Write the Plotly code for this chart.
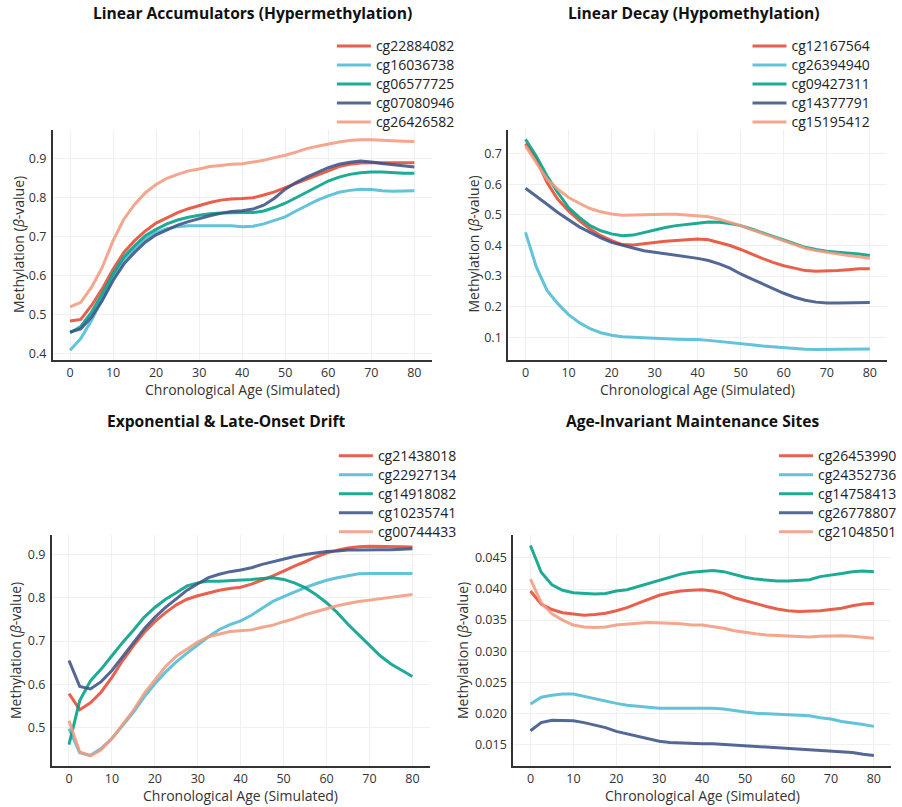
import plotly.graph_objects as go

AGES = [0, 2.5, 5, 7.5, 10, 12.5, 15, 17.5, 20, 22.5, 25, 27.5, 30, 32.5, 35, 37.5, 40,
        42.5, 45, 47.5, 50, 52.5, 55, 57.5, 60, 62.5, 65, 67.5, 70, 72.5, 75, 77.5, 80]

COLORS = ["#E64B35", "#4DBBD5", "#00A087", "#3C5488", "#F39B7F"]

PANEL_TITLES = ["Linear Accumulators (Hypermethylation)", "Linear Decay (Hypomethylation)",
                "Exponential & Late-Onset Drift", "Age-Invariant Maintenance Sites"]

# Panel 1: Linear Accumulators
P1_NAMES = ["cg22884082", "cg16036738", "cg06577725", "cg07080946", "cg26426582"]
cg22884082 = [0.484, 0.488, 0.524, 0.567, 0.617, 0.660, 0.690, 0.715, 0.735, 0.749, 0.762, 0.772, 0.781, 0.788, 0.794, 0.797, 0.798,
              0.800, 0.807, 0.815, 0.826, 0.837, 0.849, 0.860, 0.870, 0.880, 0.886, 0.889, 0.890, 0.890, 0.890, 0.890, 0.890]
cg16036738 = [0.409, 0.439, 0.486, 0.541, 0.596, 0.639, 0.669, 0.694, 0.711, 0.721, 0.726, 0.728, 0.728, 0.727, 0.728, 0.728, 0.726,
              0.727, 0.733, 0.741, 0.751, 0.766, 0.781, 0.794, 0.805, 0.814, 0.819, 0.822, 0.821, 0.818, 0.817, 0.817, 0.818]
cg06577725 = [0.454, 0.470, 0.507, 0.554, 0.605, 0.648, 0.677, 0.703, 0.719, 0.733, 0.743, 0.750, 0.755, 0.759, 0.761, 0.762, 0.762,
              0.762, 0.766, 0.775, 0.786, 0.800, 0.815, 0.830, 0.843, 0.853, 0.860, 0.864, 0.866, 0.866, 0.864, 0.863, 0.863]
cg07080946 = [0.456, 0.464, 0.494, 0.537, 0.588, 0.630, 0.660, 0.686, 0.705, 0.718, 0.730, 0.739, 0.747, 0.754, 0.760, 0.765, 0.767,
              0.771, 0.781, 0.799, 0.822, 0.839, 0.853, 0.866, 0.877, 0.886, 0.891, 0.894, 0.892, 0.888, 0.885, 0.882, 0.879]
cg26426582 = [0.520, 0.532, 0.571, 0.622, 0.690, 0.745, 0.783, 0.813, 0.834, 0.850, 0.860, 0.869, 0.874, 0.880, 0.883, 0.886, 0.887,
              0.891, 0.896, 0.903, 0.909, 0.917, 0.926, 0.932, 0.938, 0.943, 0.947, 0.949, 0.949, 0.947, 0.946, 0.945, 0.944]

# Panel 2: Linear Decay
P2_NAMES = ["cg12167564", "cg26394940", "cg09427311", "cg14377791", "cg15195412"]
cg12167564 = [0.733, 0.682, 0.606, 0.551, 0.513, 0.481, 0.454, 0.432, 0.416, 0.403, 0.402, 0.407, 0.410, 0.414, 0.417, 0.419, 0.421,
              0.419, 0.410, 0.400, 0.387, 0.372, 0.358, 0.345, 0.334, 0.326, 0.318, 0.316, 0.316, 0.318, 0.321, 0.324, 0.324]
cg26394940 = [0.443, 0.330, 0.253, 0.210, 0.174, 0.148, 0.128, 0.115, 0.107, 0.102, 0.100, 0.098, 0.096, 0.095, 0.094, 0.093, 0.093,
              0.090, 0.087, 0.084, 0.080, 0.076, 0.072, 0.069, 0.066, 0.063, 0.061, 0.060, 0.060, 0.060, 0.061, 0.061, 0.062]
cg09427311 = [0.747, 0.692, 0.627, 0.573, 0.524, 0.492, 0.465, 0.448, 0.438, 0.432, 0.434, 0.443, 0.451, 0.459, 0.465, 0.470, 0.473,
              0.477, 0.476, 0.472, 0.465, 0.454, 0.443, 0.430, 0.418, 0.405, 0.394, 0.387, 0.381, 0.378, 0.376, 0.372, 0.367]
cg14377791 = [0.587, 0.562, 0.535, 0.508, 0.484, 0.461, 0.443, 0.425, 0.410, 0.400, 0.392, 0.383, 0.378, 0.372, 0.369, 0.364, 0.358,
              0.351, 0.340, 0.326, 0.307, 0.291, 0.275, 0.259, 0.244, 0.231, 0.221, 0.215, 0.212, 0.212, 0.213, 0.213, 0.214]
cg15195412 = [0.725, 0.671, 0.616, 0.584, 0.557, 0.538, 0.521, 0.510, 0.503, 0.499, 0.500, 0.502, 0.502, 0.502, 0.502, 0.500, 0.498,
              0.494, 0.486, 0.476, 0.465, 0.452, 0.440, 0.428, 0.416, 0.403, 0.391, 0.384, 0.378, 0.372, 0.367, 0.363, 0.358]

# Panel 3: Exponential & Late-Onset Drift
P3_NAMES = ["cg21438018", "cg22927134", "cg14918082", "cg10235741", "cg00744433"]
cg21438018 = [0.578, 0.541, 0.557, 0.582, 0.616, 0.655, 0.689, 0.720, 0.745, 0.766, 0.784, 0.797, 0.805, 0.812, 0.818, 0.822, 0.825,
              0.832, 0.841, 0.851, 0.862, 0.874, 0.884, 0.895, 0.904, 0.911, 0.916, 0.919, 0.920, 0.920, 0.919, 0.919, 0.918]
cg22927134 = [0.497, 0.441, 0.435, 0.451, 0.474, 0.505, 0.535, 0.570, 0.601, 0.628, 0.652, 0.672, 0.692, 0.710, 0.727, 0.738, 0.747,
              0.760, 0.776, 0.792, 0.803, 0.814, 0.824, 0.833, 0.841, 0.847, 0.852, 0.856, 0.857, 0.857, 0.857, 0.857, 0.857]
cg14918082 = [0.460, 0.562, 0.608, 0.635, 0.666, 0.697, 0.725, 0.755, 0.778, 0.797, 0.812, 0.828, 0.835, 0.839, 0.839, 0.840, 0.842,
              0.843, 0.845, 0.847, 0.843, 0.835, 0.824, 0.808, 0.789, 0.766, 0.739, 0.714, 0.689, 0.666, 0.647, 0.632, 0.618]
cg10235741 = [0.655, 0.595, 0.589, 0.606, 0.632, 0.664, 0.695, 0.728, 0.755, 0.778, 0.798, 0.818, 0.833, 0.847, 0.855, 0.861, 0.865,
              0.870, 0.878, 0.884, 0.891, 0.896, 0.901, 0.905, 0.908, 0.909, 0.911, 0.911, 0.912, 0.912, 0.912, 0.913, 0.914]
cg00744433 = [0.515, 0.443, 0.434, 0.448, 0.474, 0.506, 0.539, 0.578, 0.610, 0.641, 0.665, 0.682, 0.698, 0.710, 0.716, 0.722, 0.724,
              0.726, 0.732, 0.737, 0.745, 0.752, 0.761, 0.768, 0.775, 0.782, 0.787, 0.792, 0.795, 0.798, 0.801, 0.804, 0.808]

# Panel 4: Age-Invariant Maintenance Sites
P4_NAMES = ["cg26453990", "cg24352736", "cg14758413", "cg26778807", "cg21048501"]
cg26453990 = [0.0397, 0.0376, 0.0367, 0.0362, 0.0360, 0.0358, 0.0359, 0.0361, 0.0365, 0.0370, 0.0377, 0.0384, 0.0390, 0.0394, 0.0397, 0.0398, 0.0399,
              0.0397, 0.0393, 0.0386, 0.0381, 0.0376, 0.0372, 0.0368, 0.0365, 0.0364, 0.0364, 0.0365, 0.0367, 0.0369, 0.0373, 0.0376, 0.0377]
cg24352736 = [0.0215, 0.0226, 0.0229, 0.0231, 0.0231, 0.0227, 0.0224, 0.0219, 0.0216, 0.0213, 0.0211, 0.0209, 0.0208, 0.0208, 0.0208, 0.0208, 0.0209,
              0.0208, 0.0207, 0.0204, 0.0202, 0.0200, 0.0199, 0.0198, 0.0197, 0.0197, 0.0196, 0.0193, 0.0191, 0.0187, 0.0185, 0.0182, 0.0179]
cg14758413 = [0.0470, 0.0427, 0.0407, 0.0398, 0.0394, 0.0393, 0.0392, 0.0393, 0.0397, 0.0399, 0.0404, 0.0409, 0.0415, 0.0420, 0.0424, 0.0427, 0.0429,
              0.0430, 0.0428, 0.0423, 0.0419, 0.0416, 0.0414, 0.0413, 0.0413, 0.0414, 0.0415, 0.0420, 0.0422, 0.0425, 0.0428, 0.0429, 0.0428]
cg26778807 = [0.0172, 0.0185, 0.0189, 0.0189, 0.0188, 0.0185, 0.0181, 0.0177, 0.0171, 0.0167, 0.0162, 0.0158, 0.0155, 0.0153, 0.0152, 0.0151, 0.0151,
              0.0151, 0.0150, 0.0149, 0.0148, 0.0147, 0.0146, 0.0145, 0.0144, 0.0143, 0.0141, 0.0141, 0.0140, 0.0138, 0.0137, 0.0134, 0.0132]
cg21048501 = [0.0416, 0.0378, 0.0360, 0.0350, 0.0342, 0.0339, 0.0338, 0.0339, 0.0342, 0.0344, 0.0345, 0.0346, 0.0346, 0.0345, 0.0344, 0.0342, 0.0342,
              0.0340, 0.0337, 0.0333, 0.0330, 0.0328, 0.0326, 0.0325, 0.0324, 0.0323, 0.0323, 0.0324, 0.0325, 0.0325, 0.0324, 0.0322, 0.0321]

X_TICKS = [0, 10, 20, 30, 40, 50, 60, 70, 80]
Y_TICKS = [
    [0.4, 0.5, 0.6, 0.7, 0.8, 0.9],
    [0.1, 0.2, 0.3, 0.4, 0.5, 0.6, 0.7],
    [0.5, 0.6, 0.7, 0.8, 0.9],
    [0.015, 0.020, 0.025, 0.030, 0.035, 0.040, 0.045],
]
Y_TICKTEXT = [
    ["0.4", "0.5", "0.6", "0.7", "0.8", "0.9"],
    ["0.1", "0.2", "0.3", "0.4", "0.5", "0.6", "0.7"],
    ["0.5", "0.6", "0.7", "0.8", "0.9"],
    ["0.015", "0.020", "0.025", "0.030", "0.035", "0.040", "0.045"],
]
X_TITLE = "Chronological Age (Simulated)"
Y_TITLE = "Methylation (<i>β</i>-value)"

panels = [
    (P1_NAMES, [cg22884082, cg16036738, cg06577725, cg07080946, cg26426582]),
    (P2_NAMES, [cg12167564, cg26394940, cg09427311, cg14377791, cg15195412]),
    (P3_NAMES, [cg21438018, cg22927134, cg14918082, cg10235741, cg00744433]),
    (P4_NAMES, [cg26453990, cg24352736, cg14758413, cg26778807, cg21048501]),
]

W, H = 902, 807
FONT = "Open Sans, Noto Sans, sans-serif"

def px(x):
    return x / W

def py(y):
    return 1 - y / H

# layout geometry (window pixels)
x_dom = [(53, 433), (510, 890), (52, 431), (515, 894)]
y_dom = [(130, 361), (130, 361), (537, 769), (537, 769)]
y_ranges = [[0.385, 0.975], [0.027, 0.779], [0.41, 0.946], [0.0115, 0.0487]]
legend_pos = [(333, 31.5), (750, 31.5), (335, 443), (777, 443)]
title_pos = [(253, 13.5), (696, 13.5), (227, 423), (695, 423)]
xtitle_pos = [(243, 390.5), (700, 390.5), (241, 798), (705, 798)]
ytitle_pos = [(18, 245), (475, 245), (15.5, 653), (464, 653)]

fig = go.Figure()
for i, (names, series) in enumerate(panels):
    sfx = "" if i == 0 else str(i + 1)
    for j, (nm, vals) in enumerate(zip(names, series)):
        fig.add_trace(go.Scatter(
            x=AGES, y=vals, mode="lines",
            name='<span style="font-size:14px">' + nm + "</span>",
            line=dict(color=COLORS[j], width=3),
            opacity=0.88,
            xaxis="x" + sfx, yaxis="y" + sfx,
            legend="legend" + sfx,
        ))

layout = dict(
    width=W, height=H,
    margin=dict(l=0, r=0, t=0, b=0),
    paper_bgcolor="white", plot_bgcolor="white",
    font=dict(family=FONT, size=12, color="#333333"),
    annotations=[],
)

for i in range(4):
    sfx = "" if i == 0 else str(i + 1)
    x0, x1 = x_dom[i]
    yt, yb = y_dom[i]
    layout["xaxis" + sfx] = dict(
        domain=[px(x0), px(x1)], anchor="y" + sfx, range=[-4, 84],
        tickvals=X_TICKS, ticktext=[str(v) for v in X_TICKS],
        showline=True, linecolor="#333333", linewidth=2, mirror=False,
        showgrid=True, gridcolor="#f0f0f0", gridwidth=1, zeroline=False,
        ticks="", tickfont=dict(size=12.5, color="#333333"),
        ticklabelstandoff=0,
    )
    layout["yaxis" + sfx] = dict(
        domain=[py(yb), py(yt)], anchor="x" + sfx, range=y_ranges[i],
        tickvals=Y_TICKS[i], ticktext=Y_TICKTEXT[i],
        showline=True, linecolor="#333333", linewidth=2, mirror=False,
        showgrid=True, gridcolor="#f0f0f0", gridwidth=1, zeroline=False,
        ticks="", tickfont=dict(size=12.5, color="#333333"),
        ticklabelstandoff=2,
    )
    lx, ly = legend_pos[i]
    layout["legend" + sfx] = dict(
        x=px(lx), y=py(ly), xanchor="left", yanchor="top",
        xref="paper", yref="paper",
        bgcolor="rgba(0,0,0,0)", borderwidth=0,
        font=dict(size=12.3, color="#222222"),
        itemwidth=34,
        tracegroupgap=0,
    )
    tx, ty = title_pos[i]
    layout["annotations"].append(dict(
        text="<b>" + PANEL_TITLES[i] + "</b>", x=px(tx), y=py(ty),
        xref="paper", yref="paper", showarrow=False,
        xanchor="center", yanchor="middle", borderpad=0,
        font=dict(size=15.6, color="#111111", family=FONT),
    ))
    ax, ay = xtitle_pos[i]
    layout["annotations"].append(dict(
        text=X_TITLE, x=px(ax), y=py(ay), xref="paper", yref="paper",
        showarrow=False, xanchor="center", yanchor="middle", borderpad=0,
        font=dict(size=14, color="#333333"),
    ))
    bx, by = ytitle_pos[i]
    layout["annotations"].append(dict(
        text=Y_TITLE, x=px(bx), y=py(by), xref="paper", yref="paper",
        showarrow=False, xanchor="center", yanchor="middle", textangle=-90, borderpad=0,
        font=dict(size=14, color="#333333"),
    ))

fig.update_layout(**layout)
# place the fixed-size figure flush with the window corner (no default page margin)
fig.write_html("out.html", config={"displayModeBar": False},
               post_script="document.body.style.margin='0';")
